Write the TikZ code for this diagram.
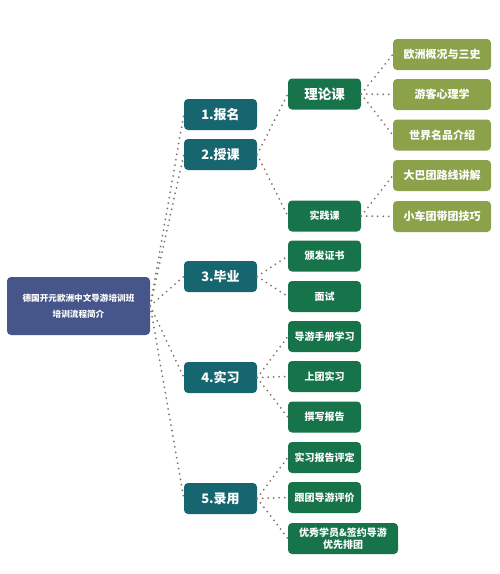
\documentclass[tikz,border=0pt]{standalone}
\usepackage{fontspec}
\setmainfont{Noto Sans CJK SC}
\usetikzlibrary{positioning}
\definecolor{rootblue}{HTML}{47568A}
\definecolor{stageteal}{HTML}{15666F}
\definecolor{coursegreen}{HTML}{17734A}
\definecolor{topicolive}{HTML}{8BA24B}
\definecolor{linkgray}{HTML}{857262}
\tikzset{
  box/.style={rounded corners=4pt, text=white, align=center, inner sep=1pt},
  rootbox/.style={box, fill=rootblue, minimum width=143pt, minimum height=58pt, font=\bfseries\fontsize{8.6}{16}\selectfont},
  stagebox/.style={box, fill=stageteal, minimum width=73pt, minimum height=31pt, font=\bfseries\fontsize{13}{15}\selectfont},
  coursebox/.style={box, fill=coursegreen, minimum width=73pt, minimum height=31pt, font=\bfseries\fontsize{10}{12}\selectfont},
  topicbox/.style={box, fill=topicolive, minimum width=98pt, minimum height=31pt, font=\bfseries\fontsize{11}{13}\selectfont},
  link/.style={draw=linkgray, line width=2pt, line cap=round, dash pattern=on 0pt off 5.5pt}
}

\begin{document}
\begin{tikzpicture}[x=1pt, y=-1pt]
  \useasboundingbox (0,0) rectangle (499,574);
  % root
  \node[rootbox] (root) at (78.5,306) {德国开元欧洲中文导游培训班\\培训流程简介};
  % stages
  \node[stagebox] (signup) at (220.5,114.5) {1.报名};
  \node[stagebox] (teach)  at (220.5,154.5) {2.授课};
  \node[stagebox] (grad)   at (220.5,276.5) {3.毕业};
  \node[stagebox] (intern) at (220.5,377.5) {4.实习};
  \node[stagebox] (hire)   at (220.5,498.5) {5.录用};
  % courses and steps
  \node[coursebox, font=\bfseries\fontsize{13.5}{15}\selectfont] (theory) at (324.5,94) {理论课};
  \node[coursebox] (practice)   at (324.5,216)   {实践课};
  \node[coursebox] (cert)       at (324.5,256)   {颁发证书};
  \node[coursebox] (interview)  at (324.5,296.5) {面试};
  \node[coursebox] (manual)     at (324.5,336.5) {导游手册学习};
  \node[coursebox] (tour)       at (324.5,376.5) {上团实习};
  \node[coursebox] (report)     at (324.5,417)   {撰写报告};
  \node[coursebox] (evalreport) at (324.5,457.5) {实习报告评定};
  \node[coursebox] (evalguide)  at (324.5,497.5) {跟团导游评价};
  \node[coursebox, minimum width=110pt, font=\bfseries\fontsize{10}{12.5}\selectfont] (excellent) at (343,538.5) {优秀学员\&签约导游\\优先排团};
  % topics
  \node[topicbox] (europe) at (442,54.5)  {欧洲概况与三史};
  \node[topicbox] (psych)  at (442,94.5)  {游客心理学};
  \node[topicbox] (brands) at (442,135)   {世界名品介绍};
  \node[topicbox] (bus)    at (442,175.5) {大巴团路线讲解};
  \node[topicbox] (car)    at (442,216.5) {小车团带团技巧};
  % dotted links
  \foreach \s in {signup,teach,grad,intern,hire}{\draw[link] (root.east)--(\s.west);}
  \foreach \a/\b in {teach/theory,teach/practice,grad/cert,grad/interview,intern/manual,intern/tour,intern/report,hire/evalreport,hire/evalguide,hire/excellent}{\draw[link] (\a.east)--(\b.west);}
  \foreach \a/\b in {theory/europe,theory/psych,theory/brands,practice/bus,practice/car}{\draw[link] (\a.east)--(\b.west);}
\end{tikzpicture}
\end{document}
